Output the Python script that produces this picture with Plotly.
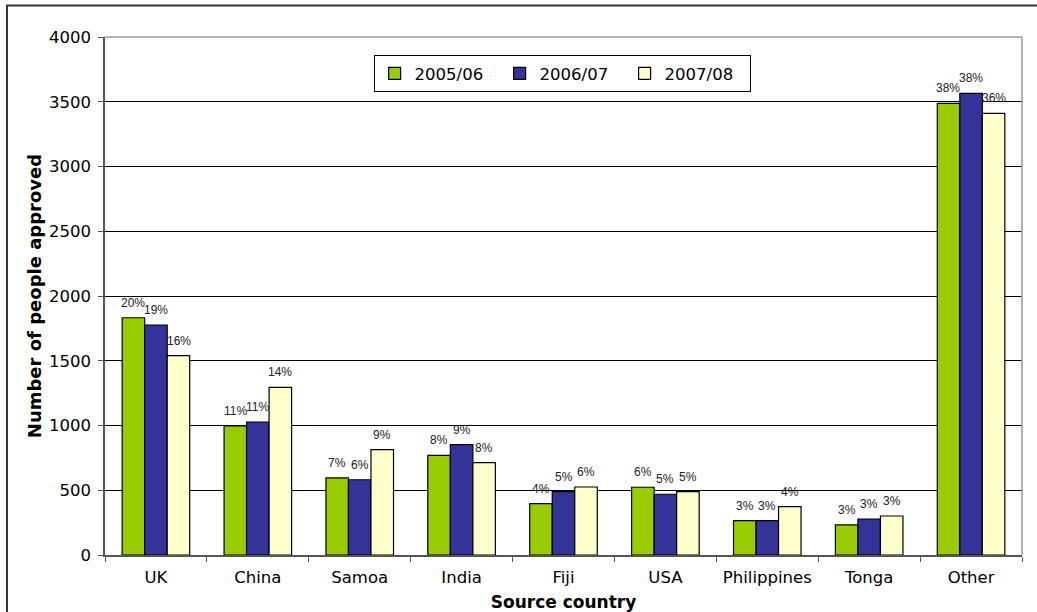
import plotly.graph_objects as go

countries = ["UK", "China", "Samoa", "India", "Fiji", "USA", "Philippines", "Tonga", "Other"]
years = ["2005/06", "2006/07", "2007/08"]

approved_0506 = [1832, 996, 595, 770, 396, 523, 265, 232, 3488]
approved_0607 = [1776, 1027, 581, 852, 489, 469, 265, 278, 3565]
approved_0708 = [1539, 1295, 813, 713, 525, 489, 373, 301, 3411]

share_0506 = ["20%", "11%", "7%", "8%", "4%", "6%", "3%", "3%", "38%"]
share_0607 = ["19%", "11%", "6%", "9%", "5%", "5%", "3%", "3%", "38%"]
share_0708 = ["16%", "14%", "9%", "8%", "6%", "5%", "4%", "3%", "36%"]

colors = ["#99CC00", "#333399", "#FFFFCC"]

BAR_PX = 22.6  # width of one bar in pixels, used to centre share labels

fig = go.Figure()
series = [approved_0506, approved_0607, approved_0708]
shares = [share_0506, share_0607, share_0708]
for name, vals, col in zip(years, series, colors):
    fig.add_trace(go.Bar(
        name=name,
        x=countries,
        y=vals,
        marker=dict(color=col, line=dict(color="#000000", width=1.2)),
    ))

# Share-of-total labels above each bar
for k, (vals, labs) in enumerate(zip(series, shares)):
    for c, v, t in zip(countries, vals, labs):
        fig.add_annotation(
            x=c, y=v, text=t, showarrow=False,
            xshift=(k - 1) * BAR_PX, yshift=15, yanchor="middle",
            font=dict(family="Liberation Sans, Arial", size=12, color="#222222"),
        )

# Outer chart frame
fig.add_shape(type="rect", xref="paper", yref="paper",
              x0=-0.1069, x1=1.0175, y0=-0.2, y1=1.0608,
              line=dict(color="#333333", width=2), fillcolor="rgba(0,0,0,0)", layer="below")

fig.update_layout(
    width=1037, height=612,
    margin=dict(l=105, r=15, t=37, b=57),
    paper_bgcolor="white", plot_bgcolor="white",
    barmode="group", bargap=0.337, bargroupgap=0,
    font=dict(family="DejaVu Sans, Verdana", size=16, color="#000000"),
    showlegend=True,
    legend=dict(
        orientation="h", x=0.4985, xanchor="center", y=0.965, yanchor="top",
        bordercolor="#000000", borderwidth=1, bgcolor="white",
        font=dict(family="DejaVu Sans, Verdana", size=16.5),
        entrywidth=80, entrywidthmode="pixels", traceorder="normal",
    ),
    xaxis=dict(
        automargin=False,
        showline=True, linecolor="#555555", linewidth=1.5,
        ticks="outside", ticklen=5, tickcolor="#555555",
        tickson="boundaries", ticklabelstandoff=6,
        tickfont=dict(family="DejaVu Sans, Verdana", size=16.5),
        title=dict(text="<b>Source country</b>",
                   font=dict(family="DejaVu Sans, Verdana", size=17)),
    ),
    yaxis=dict(
        range=[0, 4000], dtick=500,
        showline=True, linecolor="#555555", linewidth=1.5,
        ticks="outside", ticklen=5, tickcolor="#555555",
        ticklabelstandoff=4,
        showgrid=True, gridcolor="#000000", gridwidth=1,
        tickfont=dict(family="DejaVu Sans, Verdana", size=16.5),
        title=dict(text="<b>Number of people approved</b>", standoff=3,
                   font=dict(family="DejaVu Sans, Verdana", size=18)),
        zeroline=False,
    ),
)

# Light grey border on top and right of the plot area
fig.add_shape(type="line", xref="paper", yref="paper", x0=0, x1=1, y0=1, y1=1,
              line=dict(color="#999999", width=1.5))
fig.add_shape(type="line", xref="paper", yref="paper", x0=1, x1=1, y0=0, y1=1,
              line=dict(color="#999999", width=1.5))

fig.write_html("out.html")
